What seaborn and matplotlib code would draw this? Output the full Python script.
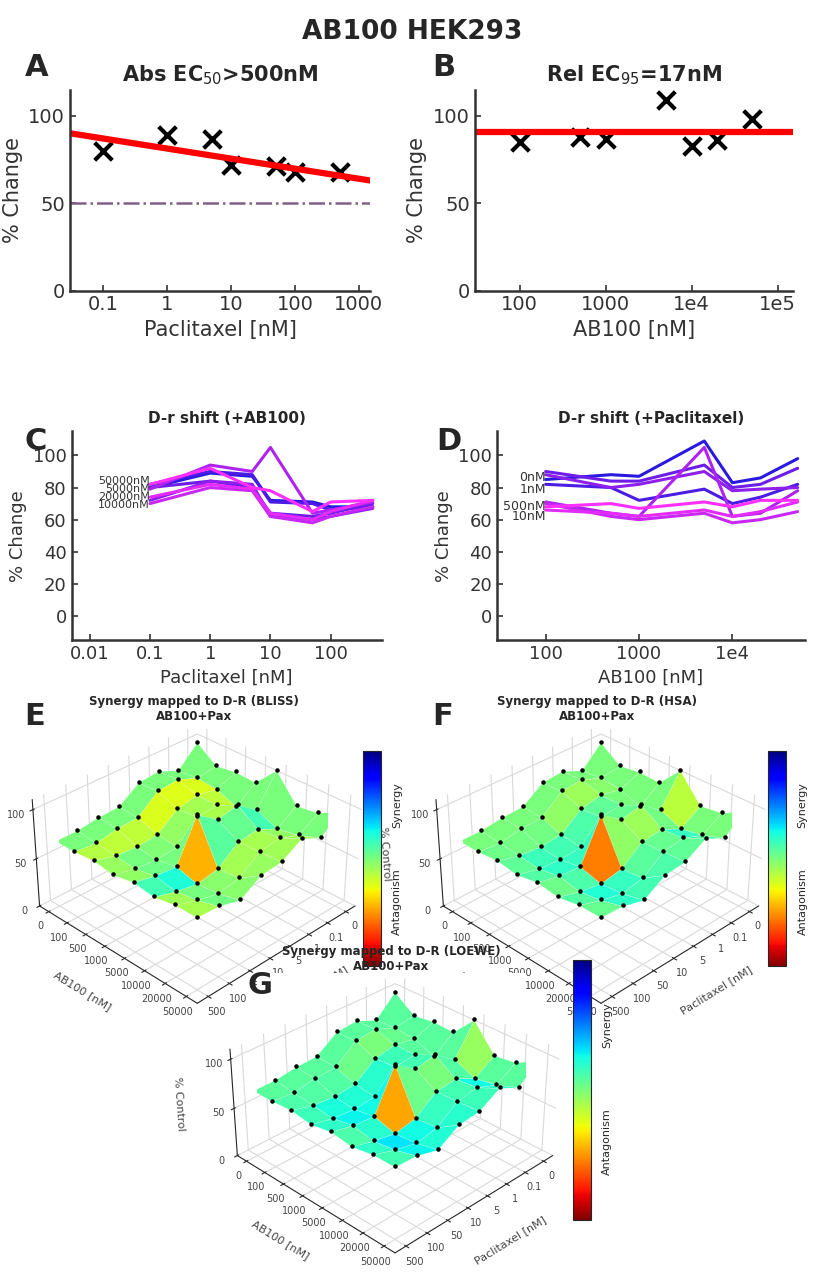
import numpy as np
import matplotlib
matplotlib.use("Agg")
import matplotlib.pyplot as plt
import seaborn as sns
from matplotlib import cm, colors

sns.set_style("white")
plt.rcParams["font.family"] = ["DejaVu Sans"]

# concentrations
ab100_conc = [0, 100, 500, 1000, 5000, 10000, 20000, 50000]
pax_conc = [0, 0.1, 1, 5, 10, 50, 100, 500]
ab100_labels = ["0", "100", "500", "1000", "5000", "10000", "20000", "50000"]
pax_labels = ["0", "0.1", "1", "5", "10", "50", "100", "500"]

# % change, rows = AB100, cols = Paclitaxel
resp_ab0 = [100, 80, 89, 87, 72, 71, 68, 68]
resp_ab100 = [85, 82, 90, 88, 71, 70, 66, 68]
resp_ab500 = [88, 80, 84, 80, 64, 62, 64, 70]
resp_ab1000 = [87, 72, 84, 82, 62, 60, 62, 67]
resp_ab5000 = [109, 79, 94, 90, 105, 64, 66, 71]
resp_ab10000 = [83, 70, 80, 78, 62, 58, 62, 68]
resp_ab20000 = [86, 74, 82, 79, 64, 60, 65, 72]
resp_ab50000 = [98, 82, 92, 80, 78, 65, 71, 72]
resp = np.array([resp_ab0, resp_ab100, resp_ab500, resp_ab1000,
                 resp_ab5000, resp_ab10000, resp_ab20000, resp_ab50000], float)

# fits
pax_fit_x = [0.03, 1500]
pax_fit_y = [90, 63]
ab_fit_x = [30, 150000]
ab_fit_y = [91, 91]
ec50_level = 50

fig = plt.figure(figsize=(8.24, 12.8), dpi=100)
fig.text(0.5, 0.985, "AB100 HEK293", ha="center", va="top", fontsize=19, fontweight="bold")


def style_2d(ax):
    for s in ["top", "right"]:
        ax.spines[s].set_visible(False)
    for s in ["left", "bottom"]:
        ax.spines[s].set_linewidth(1.8)
        ax.spines[s].set_color("#333333")
    ax.tick_params(colors="#333333", direction="in", length=4, width=1.2, left=True, bottom=True)


def label(x, y, s):
    fig.text(x, y, s, fontsize=22, fontweight="bold", ha="left", va="center")


# Panel A
axA = fig.add_axes([0.085, 0.773, 0.364, 0.157])
style_2d(axA)
axA.set_xscale("log")
axA.plot(pax_fit_x, pax_fit_y, color="red", lw=4.5)
axA.axhline(ec50_level, color="#7e5f86", lw=1.8, ls="-.")
sns.scatterplot(x=pax_conc[1:], y=resp[0, 1:], marker="x", s=160, color="black", linewidth=3, ax=axA)
axA.set_xlim(0.03, 1500)
axA.set_ylim(0, 115)
axA.set_yticks([0, 50, 100])
axA.set_xticks([0.1, 1, 10, 100, 1000])
axA.set_xticklabels(["0.1", "1", "10", "100", "1000"])
axA.tick_params(labelsize=14)
axA.set_xlabel("Paclitaxel [nM]", fontsize=15, color="#333333")
axA.set_ylabel("% Change", fontsize=15, color="#333333")
axA.set_title("Abs EC$_{50}$>500nM", fontsize=15, fontweight="bold")
label(0.03, 0.947, "A")

# Panel B
axB = fig.add_axes([0.576, 0.773, 0.386, 0.157])
style_2d(axB)
axB.set_xscale("log")
axB.plot(ab_fit_x, ab_fit_y, color="red", lw=4.5)
sns.scatterplot(x=ab100_conc[1:], y=resp[1:, 0], marker="x", s=160, color="black", linewidth=3, ax=axB)
axB.set_xlim(30, 150000)
axB.set_ylim(0, 115)
axB.set_yticks([0, 50, 100])
axB.set_xticks([100, 1000, 1e4, 1e5])
axB.set_xticklabels(["100", "1000", "1e4", "1e5"])
axB.tick_params(labelsize=14)
axB.set_xlabel("AB100 [nM]", fontsize=15, color="#333333")
axB.set_ylabel("% Change", fontsize=15, color="#333333")
axB.set_title("Rel EC$_{95}$=17nM", fontsize=15, fontweight="bold")
label(0.525, 0.947, "B")

line_cmap = colors.LinearSegmentedColormap.from_list("bm", ["#2a1ae0", "#a020f0", "#ff30ff"])

# Panel C: one line per AB100 across paclitaxel
axC = fig.add_axes([0.087, 0.5, 0.376, 0.163])
style_2d(axC)
axC.set_xscale("log")
for i in range(len(ab100_conc)):
    sns.lineplot(x=pax_conc[1:], y=resp[i, 1:], color=line_cmap(i / 7), lw=2.2, ax=axC)
for k, i in enumerate([7, 4, 6, 5]):
    axC.text(0.1, 84 - 5 * k, f"{ab100_conc[i]}nM", fontsize=8, ha="right", va="center", color="#333333")
axC.set_xlim(0.005, 700)
axC.set_ylim(-15, 115)
axC.set_yticks(range(0, 101, 20))
axC.set_xticks([0.01, 0.1, 1, 10, 100])
axC.set_xticklabels(["0.01", "0.1", "1", "10", "100"])
axC.tick_params(labelsize=13)
axC.set_xlabel("Paclitaxel [nM]", fontsize=13, color="#333333")
axC.set_ylabel("% Change", fontsize=13, color="#333333")
axC.set_title("D-r shift (+AB100)", fontsize=11, fontweight="bold")
label(0.03, 0.655, "C")

# Panel D: one line per paclitaxel across AB100
axD = fig.add_axes([0.603, 0.5, 0.374, 0.163])
style_2d(axD)
axD.set_xscale("log")
for j in range(len(pax_conc)):
    sns.lineplot(x=ab100_conc[1:], y=resp[1:, j], color=line_cmap(j / 7), lw=2.2, ax=axD)
for k, j in enumerate([0, 2]):
    axD.text(100, 86 - 7 * k, f"{pax_labels[j]}nM", fontsize=9, ha="right", va="center", color="#333333")
for k, j in enumerate([7, 4]):
    axD.text(100, 68 - 6 * k, f"{pax_labels[j]}nM", fontsize=9, ha="right", va="center", color="#333333")
axD.set_xlim(30, 60000)
axD.set_ylim(-15, 115)
axD.set_yticks(range(0, 101, 20))
axD.set_xticks([100, 1000, 1e4])
axD.set_xticklabels(["100", "1000", "1e4"])
axD.tick_params(labelsize=13)
axD.set_xlabel("AB100 [nM]", fontsize=13, color="#333333")
axD.set_ylabel("% Change", fontsize=13, color="#333333")
axD.set_title("D-r shift (+Paclitaxel)", fontsize=11, fontweight="bold")
label(0.53, 0.655, "D")

# synergy surfaces
A = resp[0][None, :]
B = resp[:, 0][:, None]
bliss_syn = A * B / 100 - resp
hsa_syn = np.minimum(A, B) - resp
loewe_syn = np.minimum(A, B) + 5 - resp
norm = colors.Normalize(-60, 60)
syn_cmap = plt.get_cmap("jet_r")


def surface(rect, cbrect, syn, title):
    ax = fig.add_axes(rect, projection="3d")
    X, Y = np.meshgrid(np.arange(8), np.arange(8))  # X = pax idx, Y = ab idx
    ax.plot_surface(X, Y, resp, facecolors=syn_cmap(norm(syn)), rstride=1, cstride=1,
                    linewidth=0.3, edgecolor=(1, 1, 1, 0.35), shade=False, antialiased=True)
    ax.scatter(X.ravel(), Y.ravel(), resp.ravel() + 1, color="black", s=5, depthshade=False)
    ax.view_init(elev=32, azim=45)
    ax.set_box_aspect((1, 1, 0.55), zoom=1.25)
    ax.set_xticks(range(8))
    ax.set_xticklabels(pax_labels, fontsize=7, color="#444444")
    ax.set_yticks(range(8))
    ax.set_yticklabels(ab100_labels, fontsize=7, color="#444444")
    ax.set_zlim(0, 110)
    ax.set_zticks([0, 50, 100])
    ax.set_zticklabels(["0", "50", "100"], fontsize=7, color="#444444")
    ax.tick_params(pad=-3)
    ax.set_xlabel("Paclitaxel [nM]", fontsize=8, color="#444444", labelpad=-2)
    ax.set_ylabel("AB100 [nM]", fontsize=8, color="#444444", labelpad=-2)
    ax.set_zlabel("% Control", fontsize=8, color="#444444", labelpad=-4)
    for a in [ax.xaxis, ax.yaxis, ax.zaxis]:
        a.set_pane_color((1, 1, 1, 0))
        a._axinfo["grid"]["color"] = (0.85, 0.85, 0.85, 1)
    ax.set_title(title, fontsize=8.5, fontweight="bold", pad=-6)
    cax = fig.add_axes(cbrect)
    cb = fig.colorbar(cm.ScalarMappable(norm=norm, cmap=syn_cmap), cax=cax)
    cb.set_ticks([])
    cax.text(1.9, 0.75, "Synergy", rotation=90, transform=cax.transAxes, ha="center", va="center", fontsize=8)
    cax.text(1.9, 0.3, "Antagonism", rotation=90, transform=cax.transAxes, ha="center", va="center", fontsize=8)


surface([0.03, 0.225, 0.41, 0.21], [0.44, 0.245, 0.022, 0.168], bliss_syn,
        "Synergy mapped to D-R (BLISS)\nAB100+Pax")
label(0.03, 0.44, "E")
surface([0.52, 0.225, 0.41, 0.21], [0.932, 0.245, 0.022, 0.168], hsa_syn,
        "Synergy mapped to D-R (HSA)\nAB100+Pax")
label(0.525, 0.44, "F")
surface([0.27, 0.03, 0.41, 0.21], [0.695, 0.047, 0.022, 0.203], loewe_syn,
        "Synergy mapped to D-R (LOEWE)\nAB100+Pax")
label(0.3, 0.23, "G")

fig.savefig("out.png", dpi=100)
